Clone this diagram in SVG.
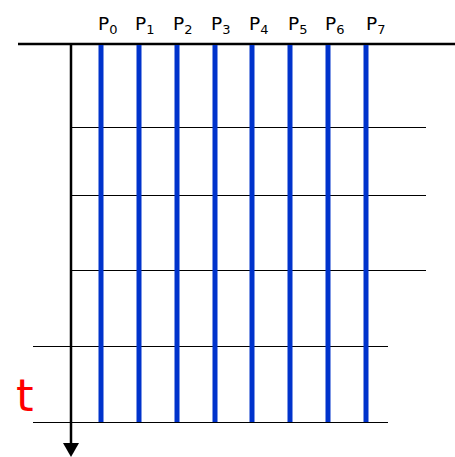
<svg xmlns="http://www.w3.org/2000/svg" width="455" height="457" viewBox="0 0 455 457">
<style>
.proc{stroke:#0033cc;stroke-width:5}
.step{stroke:#000;stroke-width:1}
.lbl{font-family:"DejaVu Sans",sans-serif;font-size:18.5px;fill:#000}
.sub{font-size:13px}
</style>
<rect width="455" height="457" fill="#fff"/>
<g id="connectors">
<line x1="18" y1="44" x2="455" y2="44" stroke="#000" stroke-width="2.5"/>
<line class="step" x1="71" y1="127.5" x2="426" y2="127.5"/>
<line class="step" x1="71" y1="195.5" x2="426" y2="195.5"/>
<line class="step" x1="71" y1="270.5" x2="426" y2="270.5"/>
<line class="step" x1="33" y1="346.5" x2="388" y2="346.5"/>
<line class="step" x1="33" y1="422.5" x2="388" y2="422.5"/>
</g>
<g id="P0"><line class="proc" x1="101" y1="45" x2="101" y2="422"/><text class="lbl" x="98" y="30">P<tspan class="sub" dy="4">0</tspan></text></g>
<g id="P1"><line class="proc" x1="139" y1="45" x2="139" y2="422"/><text class="lbl" x="135" y="30">P<tspan class="sub" dy="4">1</tspan></text></g>
<g id="P2"><line class="proc" x1="177" y1="45" x2="177" y2="422"/><text class="lbl" x="173" y="30">P<tspan class="sub" dy="4">2</tspan></text></g>
<g id="P3"><line class="proc" x1="215" y1="45" x2="215" y2="422"/><text class="lbl" x="211" y="30">P<tspan class="sub" dy="4">3</tspan></text></g>
<g id="P4"><line class="proc" x1="252" y1="45" x2="252" y2="422"/><text class="lbl" x="249" y="30">P<tspan class="sub" dy="4">4</tspan></text></g>
<g id="P5"><line class="proc" x1="290" y1="45" x2="290" y2="422"/><text class="lbl" x="288" y="30">P<tspan class="sub" dy="4">5</tspan></text></g>
<g id="P6"><line class="proc" x1="328" y1="45" x2="328" y2="422"/><text class="lbl" x="325" y="30">P<tspan class="sub" dy="4">6</tspan></text></g>
<g id="P7"><line class="proc" x1="366" y1="45" x2="366" y2="422"/><text class="lbl" x="366" y="30">P<tspan class="sub" dy="4">7</tspan></text></g>
<g id="time-axis">
<line x1="71" y1="44" x2="71" y2="445" stroke="#000" stroke-width="2.5"/>
<polygon points="63,443 79,443 71,457" fill="#000"/>
<text x="16" y="411" font-family="DejaVu Sans,sans-serif" font-size="45" fill="#ff0000">t</text>
</g>
</svg>
